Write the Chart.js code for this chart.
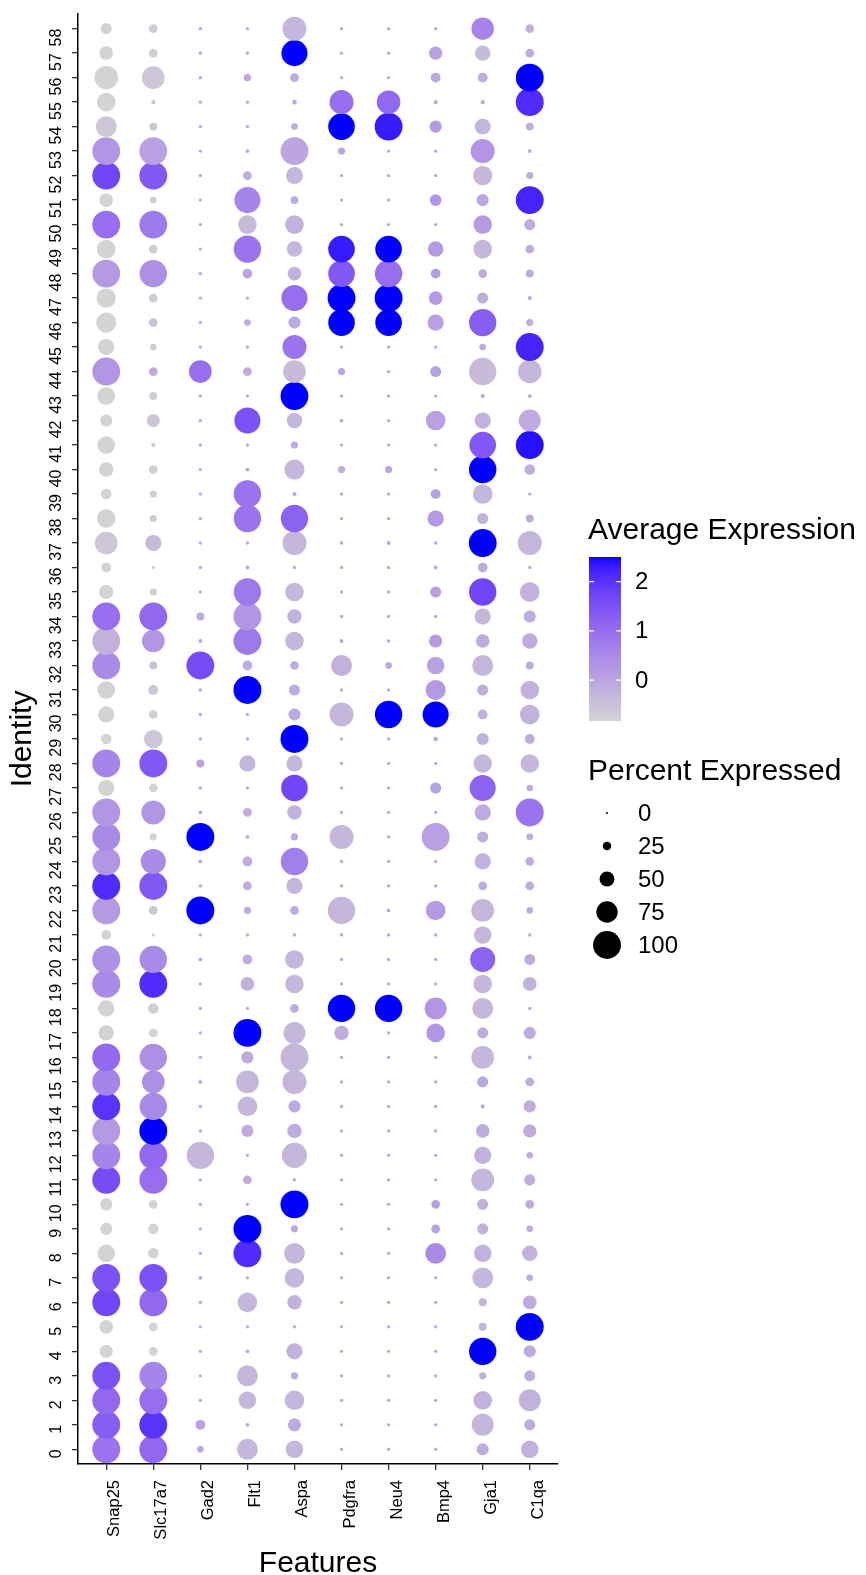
<!DOCTYPE html>
<html>
<head>
<meta charset="utf-8">
<script src="https://cdn.jsdelivr.net/npm/chart.js@4.4.0/dist/chart.umd.min.js"></script>
<style>
  html, body { margin: 0; padding: 0; background: #fff; }
  #wrap { width: 866px; height: 1575px; }
</style>
</head>
<body>
<div id="wrap"><canvas id="dotplot" width="866" height="1575"></canvas></div>
<script>
const genes = ['Snap25', 'Slc17a7', 'Gad2', 'Flt1', 'Aspa', 'Pdgfra', 'Neu4', 'Bmp4', 'Gja1', 'C1qa'];
const identities = ['0','1','2','3','4','5','6','7','8','9','10','11','12','13','14','15','16','17','18','19',
  '20','21','22','23','24','25','26','27','28','29','30','31','32','33','34','35','36','37','38','39',
  '40','41','42','43','44','45','46','47','48','49','50','51','52','53','54','55','56','57','58'];

// percent of cells expressing, per identity 0..58
const pctSnap25 = [100,100,100,100,43,45,100,100,60,39, 39,100,100,100,100,100,100,52,55,100, 100,30,100,100,100,100,100,55,100,33, 55,60,100,100,100,48,30,80,64,33, 48,60,39,60,100,55,70,67,100,65, 100,45,100,100,73,64,83,45,35];
const pctSlc17a7 = [100,100,100,100,26,26,100,100,33,33, 26,100,100,100,98,80,98,26,33,100, 98,5,26,100,89,20,85,26,100,64, 26,30,23,80,100,20,5,55,20,20, 26,8,43,23,26,18,26,26,98,26, 100,18,100,100,23,8,80,26,26];
const pctGad2 = [18,30,5,5,5,5,5,7,5,5, 5,5,98,5,5,7,5,5,5,5, 7,5,100,5,7,100,7,5,23,5, 5,5,100,7,23,5,5,5,5,5, 5,5,5,5,80,5,5,5,5,5, 5,5,5,5,5,5,5,5,5];
const pctFlt1 = [73,7,60,73,7,5,68,5,100,100, 5,26,5,39,68,80,39,100,5,45, 30,5,20,26,30,7,26,5,55,5, 5,100,30,100,100,98,7,5,98,98, 7,5,93,5,26,5,18,5,30,98, 64,93,26,7,5,5,20,5,5];
const pctAspa = [60,43,68,20,55,5,48,68,73,20, 100,5,89,48,39,85,100,77,26,64, 64,5,26,55,98,20,48,95,55,100, 39,35,26,64,48,64,5,85,98,8, 70,20,52,100,80,85,39,93,45,52, 64,23,58,100,18,10,26,93,85];
const pctPdgfra = [5,5,5,5,5,5,5,5,5,5, 5,5,5,5,5,5,5,48,98,5, 5,5,98,5,5,85,5,5,5,5, 85,5,73,7,5,5,5,5,5,5, 20,5,7,5,20,5,95,100,95,95, 5,5,5,20,95,85,5,5,5];
const pctNeu4 = [5,5,5,5,5,5,5,5,5,5, 5,5,5,5,5,5,5,5,98,5, 5,5,7,5,5,5,5,5,5,5, 98,5,18,5,5,5,5,7,5,5, 20,5,5,5,5,5,95,100,98,95, 5,5,5,5,100,83,5,5,5];
const pctBmp4 = [5,5,5,5,5,5,5,5,73,26, 26,5,5,5,5,5,5,64,77,5, 5,5,68,5,5,100,5,35,5,10, 93,70,60,43,5,35,7,5,55,30, 5,5,68,5,35,5,55,45,30,52, 5,37,5,5,39,8,30,43,5];
const pctGja1 = [39,77,64,20,98,23,23,73,60,35, 35,80,58,45,8,35,80,35,73,64, 89,60,80,26,55,35,55,93,64,39, 30,35,73,45,55,98,30,100,35,68, 98,95,55,8,98,18,98,35,26,64, 64,39,67,85,54,8,30,52,79];
const pctC1qa = [60,35,77,35,39,100,45,18,52,18, 26,35,18,43,39,26,7,39,5,45, 35,5,18,26,26,18,100,18,64,30, 68,64,23,52,39,68,5,85,23,5, 33,100,77,7,83,100,20,8,23,26, 35,100,20,7,23,100,100,26,26];

// scaled average expression, per identity 0..58
const avgSnap25 = [0.9,1.3,1.1,1.5,-0.83,-0.83,1.7,1.5,-0.83,-0.83, -0.83,1.6,0.6,0.2,2.0,0.6,1.1,-0.83,-0.83,0.5, 0.4,-0.83,0.2,2.1,0.3,0.5,0.3,-0.83,0.6,-0.83, -0.83,-0.83,0.5,-0.2,1.0,-0.83,-0.83,-0.6,-0.83,-0.83, -0.83,-0.83,-0.83,-0.83,0.3,-0.83,-0.83,-0.83,0.2,-0.83, 1.0,-0.83,1.7,0.3,-0.6,-0.83,-0.83,-0.83,-0.83];
const avgSlc17a7 = [1.1,2.0,1.0,0.6,-0.83,-0.83,1.1,1.5,-0.83,-0.83, -0.83,1.0,1.1,2.5,0.5,0.4,0.4,-0.83,-0.75,2.1, 0.5,-0.7,-0.6,1.4,0.5,-0.8,0.3,-0.83,1.4,-0.6, -0.75,-0.6,-0.5,0.3,1.1,-0.75,-0.7,-0.4,-0.7,-0.7, -0.75,-0.6,-0.6,-0.7,-0.1,-0.7,-0.5,-0.7,0.4,-0.7, 0.8,-0.7,1.4,0.1,-0.6,-0.5,-0.6,-0.75,-0.7];
const avgGad2 = [0,0.1,0,0,0,0,0,0,0,0, 0,0,-0.3,0,0,0,0,0,0,0, 0,0,2.5,0,0,2.5,0,0,0.1,0, 0,0,1.6,0,-0.1,0,0,0,0,0, 0,0,0,0,1.0,0,0,0,0,0, 0,0,0,0,0,0,0,0,0];
const avgFlt1 = [-0.3,0,-0.3,-0.3,0,0,-0.3,0,2.1,2.5, 0,-0.1,0,-0.1,-0.3,-0.3,-0.1,2.5,0,-0.2, -0.1,0,-0.1,-0.1,-0.1,0,-0.1,0,-0.3,0, 0,2.5,-0.1,0.8,0.3,0.8,0,0,0.9,0.9, 0,0,1.5,0,-0.1,0,-0.1,0,0,0.9, -0.4,0.6,-0.1,0,0,0,0,0,0];
const avgAspa = [-0.3,-0.1,-0.3,-0.1,-0.2,0,-0.2,-0.3,-0.3,-0.1, 2.5,0,-0.3,-0.1,-0.1,-0.3,-0.3,-0.3,-0.1,-0.3, -0.3,0,-0.1,-0.3,0.7,-0.1,-0.2,1.7,-0.3,2.5, -0.1,-0.1,-0.1,-0.3,-0.2,-0.3,0,-0.3,1.2,0, -0.3,-0.1,-0.3,2.5,-0.4,0.9,-0.1,1.0,-0.2,-0.3, -0.2,-0.1,-0.3,0.0,-0.1,0,-0.1,2.5,-0.3];
const avgPdgfra = [0,0,0,0,0,0,0,0,0,0, 0,0,0,0,0,0,0,-0.1,2.5,0, 0,0,-0.3,0,0,-0.3,0,0,0,0, -0.3,0,-0.2,0,0,0,0,0,0,0, -0.1,0,0,0,0,0,2.5,2.5,1.4,2.3, 0,0,0,0,2.5,1.0,0,0,0];
const avgNeu4 = [0,0,0,0,0,0,0,0,0,0, 0,0,0,0,0,0,0,0,2.5,0, 0,0,0,0,0,0,0,0,0,0, 2.5,0,0,0,0,0,0,0,0,0, 0,0,0,0,0,0,2.5,2.5,1.0,2.5, 0,0,0,0,2.3,1.1,0,0,0];
const avgBmp4 = [0,0,0,0,0,0,0,0,0.5,0.1, 0.1,0,0,0,0,0,0,0.3,0.3,0, 0,0,0.2,0,0,0.1,0,0.1,0,0, 2.5,0.2,0.1,0.2,0,0.1,0,0,0.2,0.1, 0,0,0.1,0,0.1,0,0.1,0.2,0.2,0.2, 0,0.3,0,0,0.2,0,0,0.1,0];
const avgGja1 = [-0.1,-0.3,-0.2,-0.1,2.5,-0.2,-0.2,-0.3,-0.2,-0.2, -0.2,-0.3,-0.2,-0.1,0,0,-0.3,-0.1,-0.3,-0.3, 1.2,-0.3,-0.3,-0.1,-0.2,-0.1,-0.1,1.2,-0.3,-0.2, -0.2,-0.1,-0.3,-0.1,-0.3,1.7,-0.1,2.5,-0.2,-0.3, 2.5,1.4,-0.2,0,-0.4,-0.1,1.3,-0.1,-0.1,-0.3, 0.2,0,-0.3,0.3,-0.3,0,-0.1,-0.4,0.6];
const avgC1qa = [-0.2,-0.1,-0.2,-0.1,-0.1,2.5,-0.1,-0.1,-0.2,-0.1, -0.1,-0.1,-0.1,-0.1,-0.1,-0.1,0,-0.1,0,-0.2, -0.1,0,-0.1,-0.1,-0.1,-0.1,0.9,-0.1,-0.3,-0.1, -0.2,-0.2,-0.1,-0.1,-0.1,-0.2,0,-0.3,-0.1,0, -0.1,2.4,-0.1,0,-0.3,2.2,-0.1,0,-0.1,-0.1, -0.1,2.2,-0.1,0,-0.1,2.1,2.5,-0.1,-0.2];

const pctByGene = [pctSnap25, pctSlc17a7, pctGad2, pctFlt1, pctAspa, pctPdgfra, pctNeu4, pctBmp4, pctGja1, pctC1qa];
const avgByGene = [avgSnap25, avgSlc17a7, avgGad2, avgFlt1, avgAspa, avgPdgfra, avgNeu4, avgBmp4, avgGja1, avgC1qa];

const colorTicks = [0, 1, 2];
const sizeBreaks = [0, 25, 50, 75, 100];
const colorMin = -0.83, colorMax = 2.5;

const FONT = '"Liberation Sans", Arial, sans-serif';

// grey -> blue ramp, interpolated in CIELAB
function toLin(c) { c /= 255; return c <= 0.04045 ? c / 12.92 : Math.pow((c + 0.055) / 1.055, 2.4); }
function fromLin(c) {
  c = c <= 0.0031308 ? 12.92 * c : 1.055 * Math.pow(c, 1 / 2.4) - 0.055;
  return Math.round(Math.max(0, Math.min(1, c)) * 255);
}
function rgbToLab(rgb) {
  const r = toLin(rgb[0]), g = toLin(rgb[1]), b = toLin(rgb[2]);
  const X = (0.4124 * r + 0.3576 * g + 0.1805 * b) / 0.95047;
  const Y = (0.2126 * r + 0.7152 * g + 0.0722 * b);
  const Z = (0.0193 * r + 0.1192 * g + 0.9505 * b) / 1.08883;
  const f = t => t > 0.008856 ? Math.cbrt(t) : 7.787 * t + 16 / 116;
  const fx = f(X), fy = f(Y), fz = f(Z);
  return [116 * fy - 16, 500 * (fx - fy), 200 * (fy - fz)];
}
function labToRgb(lab) {
  const fy = (lab[0] + 16) / 116, fx = fy + lab[1] / 500, fz = fy - lab[2] / 200;
  const inv = t => t * t * t > 0.008856 ? t * t * t : (t - 16 / 116) / 7.787;
  const X = inv(fx) * 0.95047, Y = inv(fy), Z = inv(fz) * 1.08883;
  const r = 3.2406 * X - 1.5372 * Y - 0.4986 * Z;
  const g = -0.9689 * X + 1.8758 * Y + 0.0415 * Z;
  const b = 0.0557 * X - 0.2040 * Y + 1.0570 * Z;
  return [fromLin(r), fromLin(g), fromLin(b)];
}
const labLow = rgbToLab([211, 211, 211]);
const labHigh = rgbToLab([0, 0, 255]);
function avgColor(v) {
  const t = Math.max(0, Math.min(1, (v - colorMin) / (colorMax - colorMin)));
  const c = labToRgb([0, 1, 2].map(i => labLow[i] + (labHigh[i] - labLow[i]) * t));
  return 'rgb(' + c.join(',') + ')';
}
// dot diameter grows linearly with percent expressed
function dotDiameter(p) { return 2.0 + 0.259 * p; }

const datasets = genes.map((g, gi) => ({
  label: g,
  data: identities.map((id, k) => ({ x: gi, y: k })),
  pointRadius: pctByGene[gi].map(p => dotDiameter(p) / 2),
  pointBackgroundColor: avgByGene[gi].map(avgColor),
  pointBorderWidth: 0,
  pointHoverRadius: pctByGene[gi].map(p => dotDiameter(p) / 2),
  showLine: false
}));

// tick labels, axis titles and both legends
const decorations = {
  id: 'decorations',
  afterDraw(chart) {
    const ctx = chart.ctx, xs = chart.scales.x, ys = chart.scales.y;
    ctx.save();
    ctx.fillStyle = '#000';

    ctx.font = '16px ' + FONT;
    ctx.textAlign = 'right';
    ctx.textBaseline = 'alphabetic';
    identities.forEach((id, k) => {
      ctx.save();
      ctx.translate(61, ys.getPixelForValue(k));
      ctx.rotate(-Math.PI / 2);
      ctx.fillText(id, 0, 0);
      ctx.restore();
    });

    ctx.font = '16.5px ' + FONT;
    genes.forEach((g, gi) => {
      ctx.save();
      ctx.translate(xs.getPixelForValue(gi) + 13, 1480);
      ctx.rotate(-Math.PI / 2);
      ctx.fillText(g, 0, 0);
      ctx.restore();
    });

    ctx.font = '30px ' + FONT;
    ctx.textAlign = 'center';
    ctx.textBaseline = 'alphabetic';
    ctx.fillText('Features', (chart.chartArea.left + chart.chartArea.right) / 2, 1572);
    ctx.save();
    ctx.translate(23, (chart.chartArea.top + chart.chartArea.bottom) / 2);
    ctx.rotate(-Math.PI / 2);
    ctx.textBaseline = 'middle';
    ctx.fillText('Identity', 0, 0);
    ctx.restore();

    // colour bar
    ctx.textAlign = 'left';
    ctx.fillText('Average Expression', 588, 539);
    const barX = 589, barW = 32, barTop = 557, barBot = 721;
    for (let y = barTop; y < barBot; y++) {
      const v = colorMax - (y + 0.5 - barTop) / (barBot - barTop) * (colorMax - colorMin);
      ctx.fillStyle = avgColor(v);
      ctx.fillRect(barX, y, barW, 1);
    }
    ctx.strokeStyle = '#fff';
    ctx.lineWidth = 1.2;
    ctx.font = '24px ' + FONT;
    ctx.textBaseline = 'middle';
    colorTicks.forEach(v => {
      const y = barBot - (v - colorMin) / (colorMax - colorMin) * (barBot - barTop);
      ctx.beginPath();
      ctx.moveTo(barX, y); ctx.lineTo(barX + 5, y);
      ctx.moveTo(barX + barW - 5, y); ctx.lineTo(barX + barW, y);
      ctx.stroke();
      ctx.fillStyle = '#000';
      ctx.fillText(String(v), 635, y + 1);
    });

    // dot size key
    ctx.font = '30px ' + FONT;
    ctx.textBaseline = 'alphabetic';
    ctx.fillText('Percent Expressed', 588, 780);
    ctx.font = '24px ' + FONT;
    ctx.textBaseline = 'middle';
    sizeBreaks.forEach((p, i) => {
      const y = 813 + i * 33;
      ctx.beginPath();
      ctx.arc(607, y, dotDiameter(p) / 2, 0, Math.PI * 2);
      ctx.fillStyle = '#000';
      ctx.fill();
      ctx.fillText(String(p), 638, y + 1);
    });
    ctx.restore();
  }
};

new Chart(document.getElementById('dotplot'), {
  type: 'scatter',
  data: { datasets },
  options: {
    responsive: false,
    animation: false,
    events: [],
    layout: { padding: { top: 12, right: 308, bottom: 0, left: 0 } },
    plugins: { legend: { display: false }, tooltip: { enabled: false } },
    scales: {
      x: {
        type: 'linear', min: -0.6, max: 9.6,
        afterBuildTicks: axis => { axis.ticks = genes.map((g, i) => ({ value: i })); },
        afterFit: axis => { axis.height = 111; },
        ticks: { display: false },
        grid: { drawOnChartArea: false, drawTicks: true, tickLength: 6, color: '#333', lineWidth: 1.3 },
        border: { display: true, color: '#000', width: 1.5 }
      },
      y: {
        type: 'linear', min: -0.6, max: 58.6,
        afterBuildTicks: axis => { axis.ticks = identities.map((id, k) => ({ value: k })); },
        afterFit: axis => { axis.width = 78; },
        ticks: { display: false },
        grid: { drawOnChartArea: false, drawTicks: true, tickLength: 6, color: '#333', lineWidth: 1.3 },
        border: { display: true, color: '#000', width: 1.5 }
      }
    }
  },
  plugins: [decorations]
});
</script>
</body>
</html>
